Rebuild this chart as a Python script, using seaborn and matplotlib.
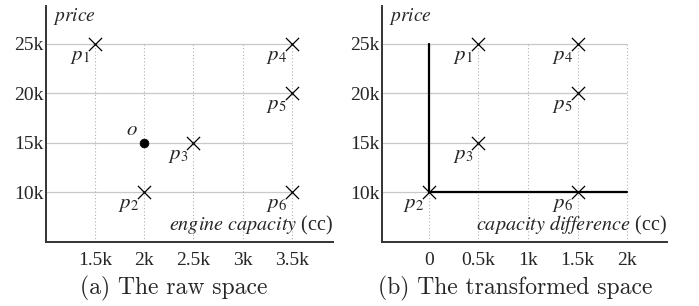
import matplotlib
matplotlib.use('Agg')
import matplotlib.pyplot as plt
import seaborn as sns
import pandas as pd

# ---- data (capacity in k cc, price in k) ----
point_names = ['p_1', 'p_2', 'p_3', 'p_4', 'p_5', 'p_6']
raw_capacity = [1.5, 2.0, 2.5, 3.5, 3.5, 3.5]
capacity_diff = [0.5, 0.0, 0.5, 1.5, 1.5, 1.5]
price = [25, 10, 15, 25, 20, 10]
query_capacity = 2.0
query_price = 15

raw_xticks = [1.5, 2.0, 2.5, 3.0, 3.5]
raw_xlabels = ['1.5k', '2k', '2.5k', '3k', '3.5k']
diff_xticks = [0.0, 0.5, 1.0, 1.5, 2.0]
diff_xlabels = ['0', '0.5k', '1k', '1.5k', '2k']
yticks = [10, 15, 20, 25]
ylabels = ['10k', '15k', '20k', '25k']

sns.set_style('white')
plt.rcParams['font.family'] = ['Liberation Serif', 'DejaVu Serif']
plt.rcParams['mathtext.fontset'] = 'stix'

fig = plt.figure(figsize=(6.99, 3.06), dpi=100)
ax_a = fig.add_axes([46/699, 64/306, 287/699, 236/306])
ax_b = fig.add_axes([382/699, 64/306, 285/699, 236/306])


def setup(ax, xticks, xlabels, xlim, xlabel_txt):
    ax.set_xlim(*xlim)
    ax.set_ylim(5, 28.8)
    for s in ['top', 'right']:
        ax.spines[s].set_visible(False)
    for s in ['left', 'bottom']:
        ax.spines[s].set_color('#333333')
        ax.spines[s].set_linewidth(1.4)
    # grid only over the data range
    ax.hlines(yticks, xlim[0], xticks[-1], color='#c8c8c8', lw=0.9, zorder=0)
    ax.vlines(xticks, 5, yticks[-1], color='#b0b0b0', lw=0.8,
              linestyles=(0, (1, 2)), zorder=0)
    ax.set_xticks(xticks)
    ax.set_xticklabels(xlabels, fontsize=14)
    ax.set_yticks(yticks)
    ax.set_yticklabels(ylabels, fontsize=14)
    ax.tick_params(axis='x', length=0, pad=7)
    ax.tick_params(axis='y', length=0, pad=2)
    ax.text(0.025, 1.0, r'$\mathit{price}$', transform=ax.transAxes,
            fontsize=14, ha='left', va='top')
    ax.text(1.0, 0.02, xlabel_txt, transform=ax.transAxes, fontsize=14.5,
            ha='right', va='bottom')


def draw_points(ax, xs):
    df = pd.DataFrame({'x': xs, 'y': price, 'name': point_names})
    sns.scatterplot(data=df, x='x', y='y', marker='x', s=90, color='black',
                    linewidth=0.9, ax=ax, zorder=3)
    for _, r in df.iterrows():
        ax.annotate('$' + r['name'] + '$', (r['x'], r['y']),
                    xytext=(-5, -3), textcoords='offset pixels',
                    ha='right', va='top', fontsize=15)
    ax.set_xlabel('')
    ax.set_ylabel('')


# (a) raw space
setup(ax_a, raw_xticks, raw_xlabels, (1.0, 3.92),
      r'$\mathit{engine\ capacity}$ (cc)')
draw_points(ax_a, raw_capacity)
sns.scatterplot(x=[query_capacity], y=[query_price], s=40, color='black',
                edgecolor='black', ax=ax_a, zorder=4)
ax_a.annotate('$o$', (query_capacity, query_price), xytext=(-7, 3),
              textcoords='offset pixels', ha='right', va='bottom', fontsize=15)
ax_a.set_xlabel('')
ax_a.set_ylabel('')

# (b) transformed space
setup(ax_b, diff_xticks, diff_xlabels, (-0.47, 2.4),
      r'$\mathit{capacity\ difference}$ (cc)')
x0, y0 = capacity_diff[1], price[1]
ax_b.plot([x0, x0], [y0, yticks[-1]], color='black', lw=1.6, zorder=2)
ax_b.plot([x0, diff_xticks[-1]], [y0, y0], color='black', lw=1.6, zorder=2)
draw_points(ax_b, capacity_diff)

fig.text(174/699, 1 - 288/306, '(a) The raw space', family='cmr10',
         fontsize=17, ha='center', va='center')
fig.text(515/699, 1 - 288/306, '(b) The transformed space', family='cmr10',
         fontsize=17, ha='center', va='center')

fig.savefig('out.png', dpi=100)
